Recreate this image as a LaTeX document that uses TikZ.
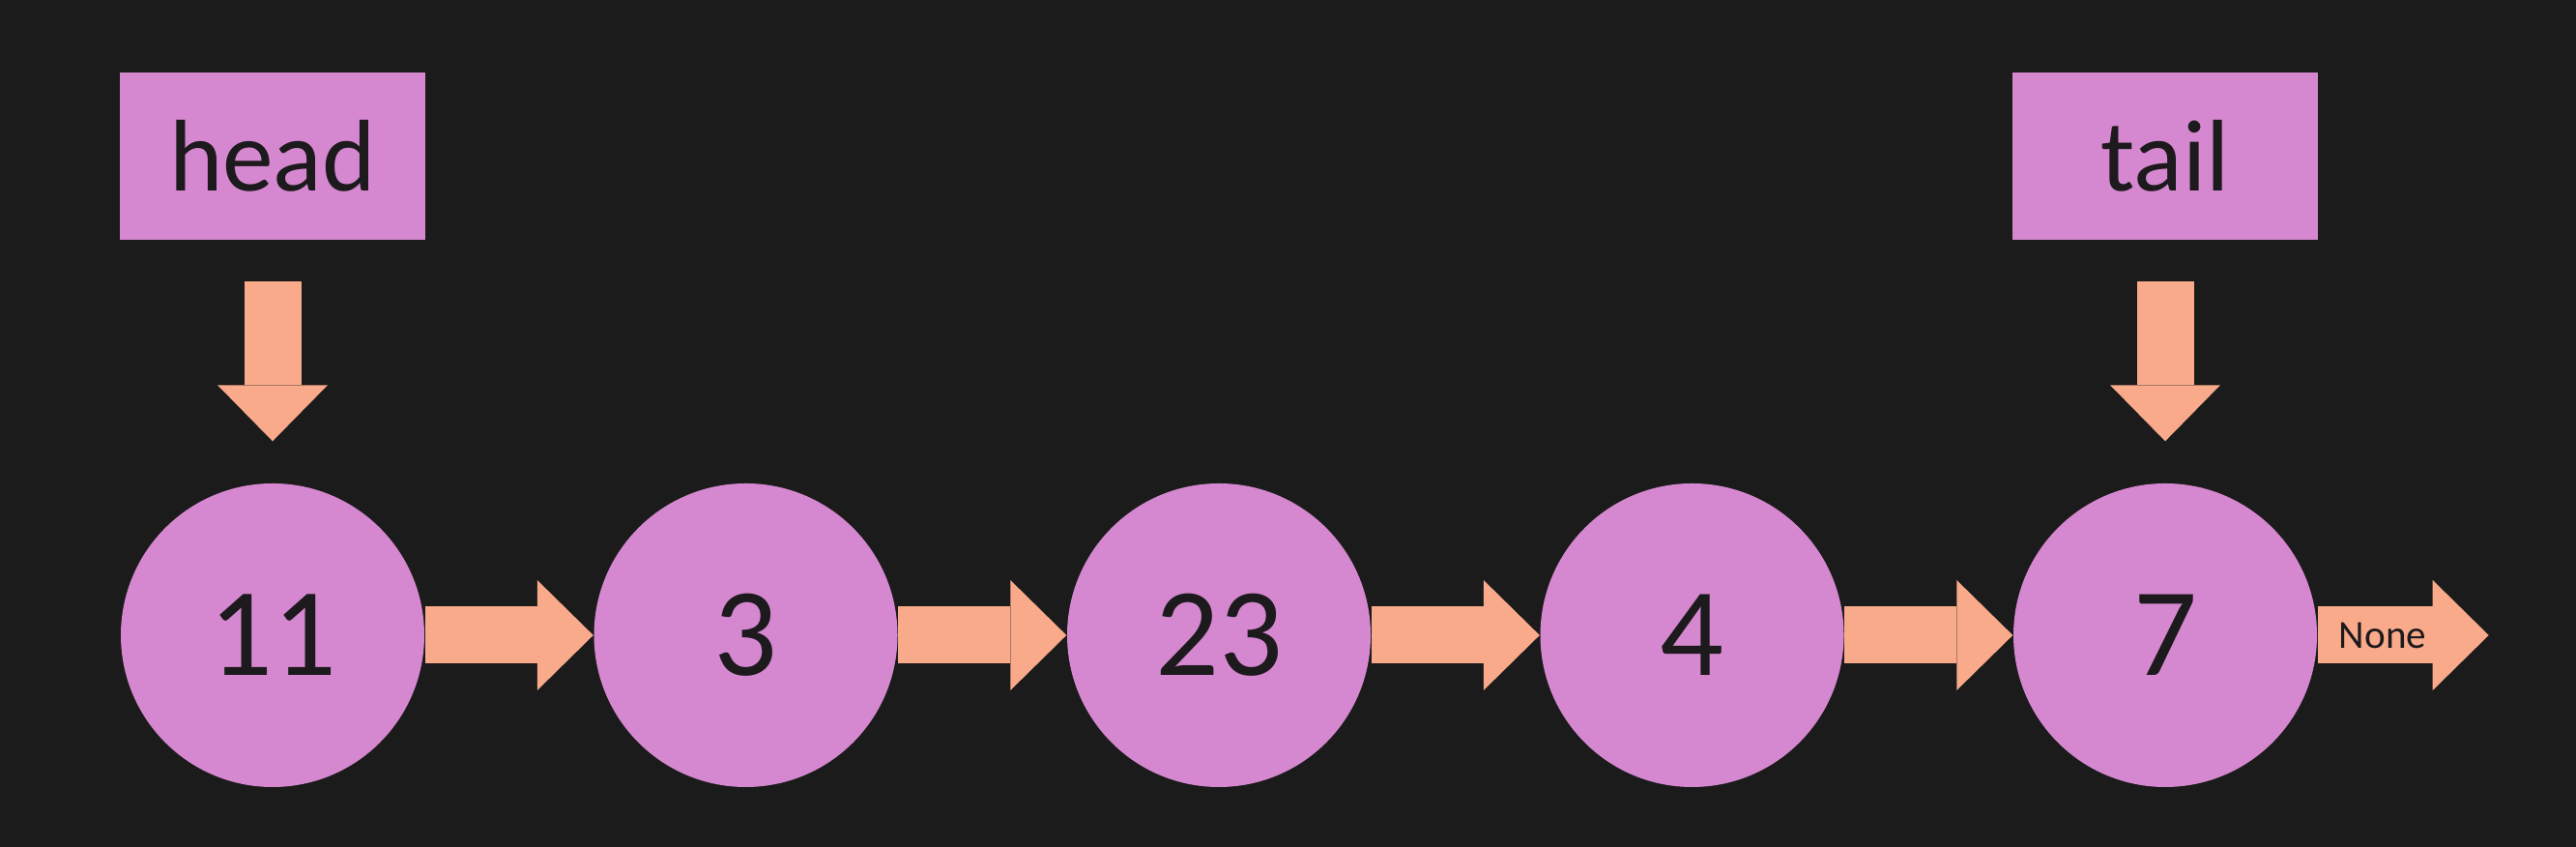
\documentclass[tikz,border=0pt]{standalone}
\usepackage{fontspec}
\setmainfont{Carlito}
\usetikzlibrary{arrows.meta, positioning}
\definecolor{cbg}{HTML}{1B1B1B}
\definecolor{cpink}{HTML}{D588CF}
\definecolor{corange}{HTML}{F9AA8A}
\definecolor{cink}{HTML}{1C1A1C}
\tikzset{
  listnode/.style={circle, fill=cpink, minimum size=3.14cm, inner sep=0pt, text=cink, font=\fontsize{37}{44}\selectfont},
  pointer/.style={rectangle, fill=cpink, minimum width=3.16cm, minimum height=1.73cm, inner sep=0pt, text=cink, font=\fontsize{30}{36}\selectfont},
  link/.style={draw=corange, line width=0.59cm, -{Triangle[length=0.58cm, width=1.14cm, line width=0pt]}},
  nonetext/.style={text=cink, font=\fontsize{11.7}{14}\selectfont, inner sep=0pt},
}

\begin{document}
\begin{tikzpicture}
  % dark page
  \fill[cbg] (0,0) rectangle (26.65,8.76);
  % the linked list: five nodes in a row
  \foreach \i/\v in {1/11, 2/3, 3/23, 4/4, 5/7} {
    \node[listnode] (n\i) at ({2.82+4.895*(\i-1)},2.19) {\v};
  }
  \foreach \i [evaluate=\i as \j using int(\i+1)] in {1,...,4} {
    \draw[link] (n\i.east) -- (n\j.west);
  }
  % last node points to nothing
  \coordinate[right=1.77cm of n5.east] (nil);
  \draw[link] (n5.east) -- (nil) node[nonetext, pos=0.38] {None};
  % head and tail pointers
  \node[pointer, above=2.51cm of n1] (head) {head};
  \node[pointer, above=2.51cm of n5] (tail) {tail};
  \draw[link, shorten <=0.43cm, shorten >=0.43cm] (head) -- (n1);
  \draw[link, shorten <=0.43cm, shorten >=0.43cm] (tail) -- (n5);
\end{tikzpicture}
\end{document}
